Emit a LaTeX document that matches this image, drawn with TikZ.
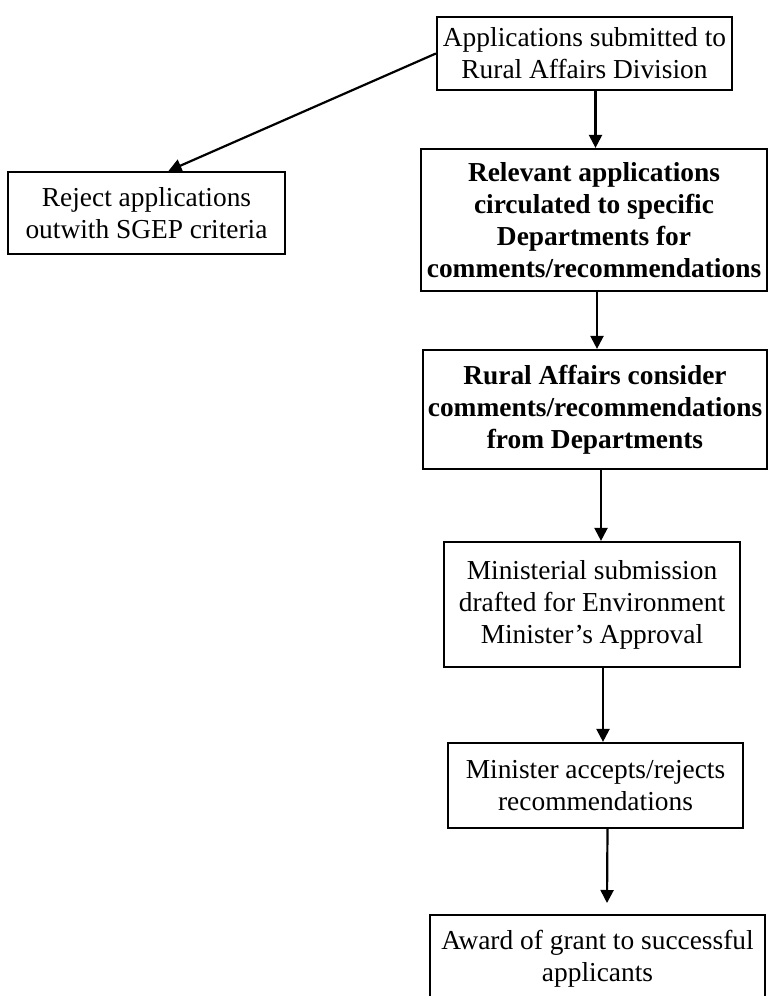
\documentclass[tikz,border=0pt]{standalone}
\usepackage{fontspec}
\setmainfont{Liberation Serif}
\usetikzlibrary{arrows.meta,positioning}

\begin{document}
\begin{tikzpicture}[x=0.5pt,y=-0.5pt,
    box/.style={draw,line width=1.1pt,align=center,inner sep=0pt,
      font=\fontsize{13.7}{16}\selectfont},
    boldbox/.style={box,font=\fontsize{13.7}{16}\selectfont\bfseries},
    arr/.style={-{Triangle[width=6.5pt,length=6.5pt]},line width=1.1pt}]
  \useasboundingbox (0,0) rectangle (769,996);
  \clip (0,0) rectangle (769,996);
  % Boxes
  \node[box,minimum width=147.5pt,minimum height=36.5pt] (sub) at (584.5,53.5)
    {Applications submitted to\\Rural Affairs Division};
  \node[box,minimum width=138.5pt,minimum height=41pt] (rej) at (146.5,213)
    {Reject applications\\outwith SGEP criteria};
  \node[boldbox,minimum width=173pt,minimum height=71pt] (circ) at (594,220)
    {Relevant applications\\circulated to specific\\Departments for\\comments/recommendations};
  \node[boldbox,minimum width=172pt,minimum height=59.5pt] (cons) at (595,409.5)
    {Rural Affairs consider\\comments/recommendations\\from Departments};
  \node[box,minimum width=148pt,minimum height=62.5pt] (draft) at (592,604.5)
    {Ministerial submission\\drafted for Environment\\Minister’s Approval};
  \node[box,minimum width=147.5pt,minimum height=42.5pt] (mins) at (595.5,785.5)
    {Minister accepts/rejects\\recommendations};
  \node[box,minimum width=167.5pt,minimum height=44pt] (award) at (597.5,959)
    {Award of grant to successful\\applicants};
  % Arrows
  \coordinate (gap) at (607,903);
  \draw[arr] (sub.west) -- ([xshift=11pt]rej.north);
  \draw[arr] ([xshift=5.5pt]sub.south) -- ([xshift=5.5pt]sub.south |- circ.north);
  \draw[arr] ([xshift=1.5pt]circ.south) -- ([xshift=1.5pt]circ.south |- cons.north);
  \draw[arr] ([xshift=3pt]cons.south) -- ([xshift=3pt]cons.south |- draft.north);
  \draw[arr] ([xshift=5.5pt]draft.south) -- ([xshift=5.5pt]draft.south |- mins.north);
  \draw[arr] ([xshift=6pt]mins.south) -- (gap);
\end{tikzpicture}
\end{document}
